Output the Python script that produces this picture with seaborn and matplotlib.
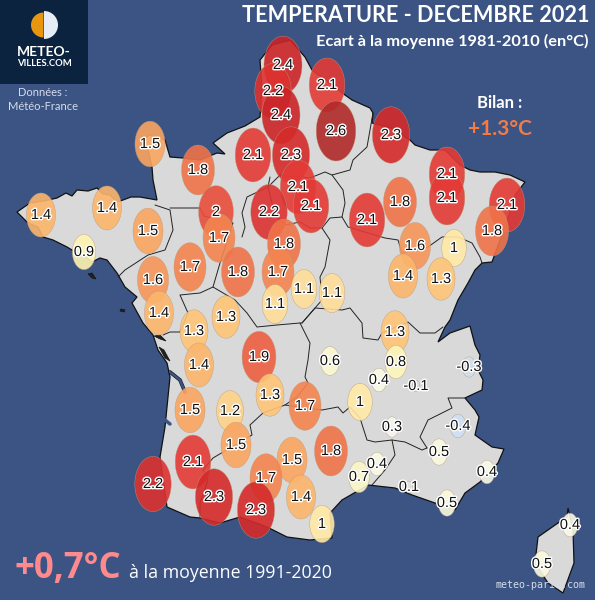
"""Ecart de temperature, decembre 2021, par station."""

# Import packages
import matplotlib
matplotlib.use("Agg")
import matplotlib.patheffects as pe
import matplotlib.pyplot as plt
import numpy as np
import pandas as pd
import seaborn as sns
from matplotlib.colors import LinearSegmentedColormap
from matplotlib.patches import Rectangle, Wedge
from matplotlib.path import Path

# ---------- Data ---------- #

# Stations on the map grid, temperature anomaly in deg C
station_x = [283, 327, 273, 281, 336, 391, 253, 291, 150, 198, 298, 311,
             216, 269, 219, 284, 367, 400, 447, 447, 507, 492, 415, 454,
             403, 441, 41, 107, 148, 84, 153, 190, 238, 278, 275, 304,
             332, 159, 194, 226, 395, 199, 259, 330, 396, 379, 416, 469,
             270, 360, 305, 190, 230, 236, 392, 458, 439, 331, 193, 292,
             266, 359, 377, 487, 409, 447, 153, 214, 301, 256, 322, 570, 542]
station_y = [65, 85, 91, 115, 131, 135, 155, 155, 144, 170, 187, 206,
             212, 212, 238, 244, 220, 202, 174, 198, 205, 231, 246, 248,
             276, 279, 215, 208, 231, 252, 280, 267, 272, 272, 304, 289,
             293, 313, 331, 317, 332, 365, 357, 361, 362, 380, 386, 367,
             395, 402, 406, 410, 411, 445, 427, 426, 452, 451, 462, 460,
             478, 477, 464, 472, 487, 503, 484, 497, 497, 510, 524, 525, 564]
anomaly = [2.4, 2.1, 2.2, 2.4, 2.6, 2.3, 2.1, 2.3, 1.5, 1.8, 2.1, 2.1,
           2, 2.2, 1.7, 1.8, 2.1, 1.8, 2.1, 2.1, 2.1, 1.8, 1.6, 1,
           1.4, 1.3, 1.4, 1.4, 1.5, 0.9, 1.6, 1.7, 1.8, 1.7, 1.1, 1.1,
           1.1, 1.4, 1.3, 1.3, 1.3, 1.4, 1.9, 0.6, 0.8, 0.4, -0.1, -0.3,
           1.3, 1, 1.7, 1.5, 1.2, 1.5, 0.3, -0.4, 0.5, 1.8, 2.1, 1.5,
           1.7, 0.7, 0.4, 0.4, 0.1, 0.5, 2.2, 2.3, 1.4, 2.3, 1, 0.4, 0.5]

france_x = [152, 148, 142, 150, 165, 170, 183, 200, 217, 225, 213, 227, 245, 260,
            262, 260, 272, 290, 305, 312, 328, 345, 352, 370, 373, 372, 391, 410,
            415, 430, 445, 460, 470, 480, 495, 510, 525, 515, 508, 500, 492, 482,
            475, 468, 458, 450, 445, 438, 450, 470, 475, 480, 478, 483, 482, 465, 475,
            479, 475, 492, 504, 498, 480, 465, 455, 435, 412, 395, 368, 342, 330,
            332, 310, 287, 267, 240, 220, 200, 190, 167, 160, 165, 170, 167, 158,
            153, 143, 132, 137, 125, 117, 107, 100, 92, 85, 77, 67, 53, 43, 38, 28, 17,
            30, 44, 57, 66, 72, 77, 88, 97, 103, 110, 117, 123, 131, 140, 157, 153]
france_y = [167, 150, 140, 135, 140, 157, 158, 160, 153, 154, 143, 133, 126, 117,
            90, 60, 45, 40, 57, 70, 82, 95, 100, 108, 113, 123, 128, 140,
            145, 150, 150, 165, 170, 172, 172, 175, 182, 195, 218, 240, 262, 263,
            270, 283, 300, 320, 327, 342, 333, 326, 345, 355, 370, 380, 390, 398, 410,
            417, 435, 447, 449, 463, 482, 493, 510, 503, 495, 488, 485, 500, 513,
            538, 540, 537, 527, 517, 523, 518, 517, 507, 457, 427, 377, 363, 350,
            335, 323, 303, 297, 287, 273, 260, 258, 262, 256, 253, 247, 240, 237, 227, 223, 212,
            203, 201, 198, 193, 196, 190, 191, 188, 194, 195, 202, 200, 197, 197, 200, 180]
corsica_x = [568, 573, 574, 563, 548, 535, 538, 558, 567]
corsica_y = [508, 530, 563, 593, 583, 563, 537, 523, 517]
islands_x = [[88, 92, 96, 92], [121, 125, 124, 120], [154, 160, 166, 160], [159, 164, 170, 165]]
islands_y = [[274, 273, 279, 278], [309, 310, 312, 311], [336, 335, 341, 339], [347, 350, 361, 358]]

border_x = [
    [155, 170, 173, 165, 148, 125, 118],
    [170, 200, 204, 233, 220, 213, 200, 180, 188, 180, 170, 163],
    [270, 268, 247, 242, 245, 242],
    [213, 235, 247, 257, 277, 300, 302, 315, 342, 350, 362, 363, 378, 382, 408, 420, 435, 443],
    [268, 280, 310, 325, 332, 343, 345, 342, 330, 322, 310, 300, 285, 275, 268],
    [373, 367, 353, 350, 332],
    [342, 348, 385, 398, 402, 428, 442, 458, 472, 480, 482],
    [322, 330, 325, 320, 322, 302],
    [300, 310, 308, 305, 308, 297, 285, 263, 250, 252, 213, 203, 208, 200, 200],
    [285, 322, 338, 343, 350, 360, 367, 375, 392, 405, 422, 427],
    [427, 420, 428, 452, 448, 465],
    [392, 395, 385, 372],
]
border_y = [
    [205, 210, 230, 250, 255, 270, 277],
    [208, 208, 216, 223, 263, 287, 293, 295, 313, 332, 332, 335],
    [177, 187, 197, 213, 227, 237],
    [287, 300, 313, 327, 325, 323, 323, 308, 310, 308, 323, 338, 340, 333, 322, 333, 333, 327],
    [187, 175, 178, 172, 175, 190, 203, 217, 218, 228, 228, 222, 225, 215, 187],
    [113, 147, 160, 170, 175],
    [217, 227, 238, 240, 253, 247, 237, 237, 243, 257, 263],
    [228, 240, 267, 277, 300, 323],
    [323, 343, 360, 377, 383, 397, 405, 413, 425, 435, 458, 470, 480, 503, 517],
    [405, 410, 407, 413, 407, 418, 440, 442, 440, 442, 450, 448],
    [448, 437, 420, 408, 398, 398],
    [440, 455, 470, 485],
]

df = pd.DataFrame({"x": station_x, "y": station_y, "anomaly": anomaly})
df["magnitude"] = df["anomaly"].abs()

# ---------- Colours ---------- #

OCEAN = "#3c5484"
LAND = "#d9d9d9"
anchors = [(-0.4, "#cfe0f6"), (-0.1, "#d9d9d9"), (0.1, "#e2e2e0"), (0.3, "#f8f8f0"),
           (0.5, "#fbfbde"), (0.9, "#fef4b0"), (1.1, "#ffe09a"), (1.3, "#fec578"),
           (1.5, "#faa660"), (1.7, "#f48650"), (1.9, "#ec6040"), (2.1, "#e43a36"),
           (2.3, "#d62a2a"), (2.4, "#cb2428"), (2.6, "#b22a2a")]
vmin, vmax = anchors[0][0], anchors[-1][0]
temp_cmap = LinearSegmentedColormap.from_list(
    "anomaly", [((v - vmin) / (vmax - vmin), c) for v, c in anchors]
)

# ---------- Figure ---------- #

sns.set_theme(style="white")
plt.rcParams["font.family"] = ["Lato", "DejaVu Sans"]

fig = plt.figure(figsize=(5.95, 6.0), dpi=100, facecolor=OCEAN)
ax = fig.add_axes([0, 0, 1, 1])
ax.set_facecolor(OCEAN)

# Map
ax.fill(france_x, france_y, facecolor=LAND, edgecolor="#111111", lw=0.9, zorder=1)
ax.fill(corsica_x, corsica_y, facecolor=LAND, edgecolor="#111111", lw=0.9, zorder=1)
for ix, iy in zip(islands_x, islands_y):
    ax.fill(ix, iy, facecolor="#222222", edgecolor="#111111", lw=0.5, zorder=1)
for bx, by in zip(border_x, border_y):
    ax.plot(bx, by, color="#222222", lw=0.7, zorder=1.5)
# Gironde, Arcachon
ax.plot([170, 180, 185], [372, 380, 392], color=OCEAN, lw=1.8, zorder=1.6,
        path_effects=[pe.withStroke(linewidth=2.6, foreground="#111111")])
ax.plot([165, 170], [420, 424], color=OCEAN, lw=2.5, zorder=1.6)

# Stations, drawn as upright ellipses
t = np.linspace(0, 2 * np.pi, 60)
ellipse = Path(np.column_stack([0.66 * np.cos(t), np.sin(t)]), closed=True)
sns.scatterplot(
    data=df, x="x", y="y", hue="anomaly", size="magnitude",
    hue_norm=(vmin, vmax), palette=temp_cmap,
    size_norm=(0, 2.6), sizes=(0, 1866),
    marker=ellipse, alpha=0.9, edgecolor="#b89a7c", linewidth=0.3,
    legend=False, ax=ax, zorder=2, clip_on=False,
)
ax.set_xlim(0, 595)
ax.set_ylim(600, 0)
ax.axis("off")

# Station labels
halo = [pe.withStroke(linewidth=2.0, foreground="white")]
for x, y, v in zip(station_x, station_y, anomaly):
    ax.text(x, y, f"{v:g}", ha="center", va="center", fontsize=10.5,
            family="Liberation Sans", color="#111111", path_effects=halo, zorder=3)

# Logo
ax.add_patch(Rectangle((0, 0), 88, 84, facecolor="#0c2340", edgecolor="none", zorder=4))
ax.add_patch(Wedge((43.5, 25), 12.5, 90, 270, facecolor="#e8960f", edgecolor="none", zorder=5))
ax.add_patch(Wedge((44, 25), 14, 270, 90, facecolor="#e6edf7", edgecolor="none", zorder=5))
ax.text(44, 52, "METEO-", ha="center", va="center", color="white",
        fontsize=10, weight="bold", zorder=5)
ax.text(44, 64, "VILLES.COM", ha="center", va="center", color="white",
        fontsize=6.8, weight="bold", zorder=5)
ax.text(43, 92, "Données :", ha="center", va="center", color="#d5dcea", fontsize=8)
ax.text(43, 107, "Météo-France", ha="center", va="center", color="#d5dcea", fontsize=8)

# Titles
ax.text(589, 15, "TEMPERATURE - DECEMBRE 2021", ha="right", va="center",
        color="white", fontsize=15.6, weight="bold")
ax.text(589, 41, "Ecart à la moyenne 1981-2010 (en°C)", ha="right", va="center",
        color="white", fontsize=11.8, weight="bold")
ax.text(500, 103, "Bilan :", ha="center", va="center", color="white",
        fontsize=12, weight="bold")
ax.text(500, 129, "+1.3°C", ha="center", va="center", color="#f47b42",
        fontsize=15, weight="bold")
ax.text(15, 569, "+0,7°C", ha="left", va="center", color="#ff8a8e",
        fontsize=25, weight="bold", family="Open Sans")
ax.text(129, 573, "à la moyenne 1991-2020", ha="left", va="center", color="white",
        fontsize=12.8, family="Open Sans")
ax.text(495, 584.5, "meteo-paris.com", ha="left", va="center", color="#d5dcea",
        fontsize=7.2, family="DejaVu Sans Mono", zorder=6)

fig.savefig("out.png", dpi=100, facecolor=OCEAN)
plt.close(fig)
